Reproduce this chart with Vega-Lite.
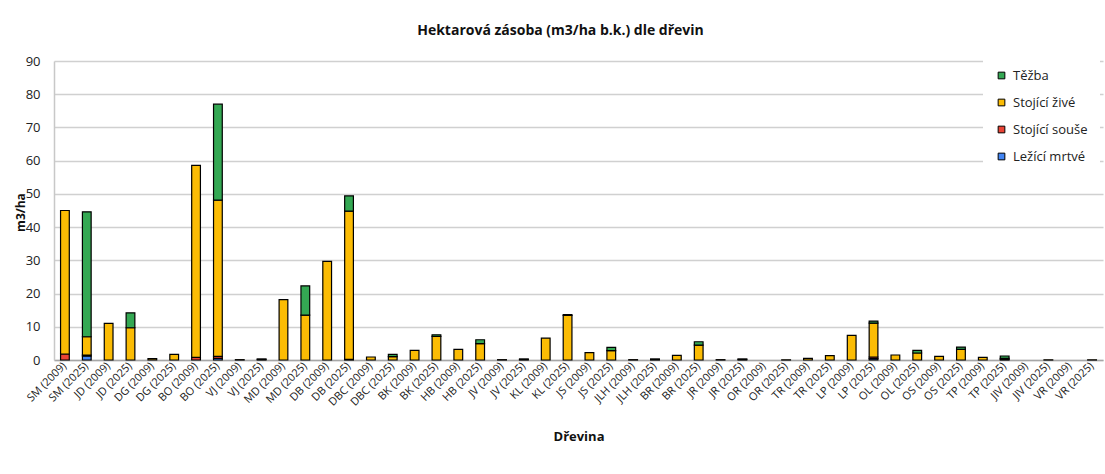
{
  "$schema": "https://vega.github.io/schema/vega-lite/v6.json",
  "autosize": "none",
  "width": 1049,
  "height": 299,
  "padding": {"left": 54, "top": 61, "right": 2, "bottom": 114},
  "background": "white",
  "title": {
    "text": "Hektarová zásoba (m3/ha b.k.) dle dřevin",
    "font": "Open Sans",
    "fontSize": 14,
    "fontWeight": "bold",
    "color": "#111",
    "anchor": "middle",
    "frame": "group",
    "dx": -18,
    "offset": 17
  },
  "data": {
    "values": [
      {"d": "SM (2009)", "Ležící mrtvé": 0, "Stojící souše": 1.8, "Stojící živé": 43.2, "Těžba": 0},
      {"d": "SM (2025)", "Ležící mrtvé": 1.2, "Stojící souše": 0.3, "Stojící živé": 5.5, "Těžba": 37.6},
      {"d": "JD (2009)", "Ležící mrtvé": 0, "Stojící souše": 0, "Stojící živé": 11.0, "Těžba": 0},
      {"d": "JD (2025)", "Ležící mrtvé": 0, "Stojící souše": 0, "Stojící živé": 9.7, "Těžba": 4.5},
      {"d": "DG (2009)", "Ležící mrtvé": 0, "Stojící souše": 0, "Stojící živé": 0.4, "Těžba": 0},
      {"d": "DG (2025)", "Ležící mrtvé": 0, "Stojící souše": 0, "Stojící živé": 1.7, "Těžba": 0},
      {"d": "BO (2009)", "Ležící mrtvé": 0, "Stojící souše": 0.8, "Stojící živé": 57.8, "Těžba": 0},
      {"d": "BO (2025)", "Ležící mrtvé": 0.5, "Stojící souše": 0.6, "Stojící živé": 47.0, "Těžba": 28.9},
      {"d": "VJ (2009)", "Ležící mrtvé": 0, "Stojící souše": 0, "Stojící živé": 0.1, "Těžba": 0},
      {"d": "VJ (2025)", "Ležící mrtvé": 0, "Stojící souše": 0, "Stojící živé": 0.2, "Těžba": 0.1},
      {"d": "MD (2009)", "Ležící mrtvé": 0, "Stojící souše": 0, "Stojící živé": 18.2, "Těžba": 0},
      {"d": "MD (2025)", "Ležící mrtvé": 0, "Stojící souše": 0, "Stojící živé": 13.5, "Těžba": 8.8},
      {"d": "DB (2009)", "Ležící mrtvé": 0, "Stojící souše": 0, "Stojící živé": 29.7, "Těžba": 0},
      {"d": "DB (2025)", "Ležící mrtvé": 0, "Stojící souše": 0.2, "Stojící živé": 44.6, "Těžba": 4.6},
      {"d": "DBC (2009)", "Ležící mrtvé": 0, "Stojící souše": 0, "Stojící živé": 0.9, "Těžba": 0},
      {"d": "DBC (2025)", "Ležící mrtvé": 0, "Stojící souše": 0, "Stojící živé": 1.0, "Těžba": 0.7},
      {"d": "BK (2009)", "Ležící mrtvé": 0, "Stojící souše": 0, "Stojící živé": 2.9, "Těžba": 0},
      {"d": "BK (2025)", "Ležící mrtvé": 0, "Stojící souše": 0, "Stojící živé": 7.1, "Těžba": 0.5},
      {"d": "HB (2009)", "Ležící mrtvé": 0, "Stojící souše": 0, "Stojící živé": 3.2, "Těžba": 0},
      {"d": "HB (2025)", "Ležící mrtvé": 0, "Stojící souše": 0, "Stojící živé": 4.9, "Těžba": 1.2},
      {"d": "JV (2009)", "Ležící mrtvé": 0, "Stojící souše": 0, "Stojící živé": 0.1, "Těžba": 0},
      {"d": "JV (2025)", "Ležící mrtvé": 0, "Stojící souše": 0, "Stojící živé": 0.2, "Těžba": 0.1},
      {"d": "KL (2009)", "Ležící mrtvé": 0, "Stojící souše": 0, "Stojící živé": 6.6, "Těžba": 0},
      {"d": "KL (2025)", "Ležící mrtvé": 0, "Stojící souše": 0, "Stojící živé": 13.4, "Těžba": 0.3},
      {"d": "JS (2009)", "Ležící mrtvé": 0, "Stojící souše": 0, "Stojící živé": 2.2, "Těžba": 0},
      {"d": "JS (2025)", "Ležící mrtvé": 0, "Stojící souše": 0, "Stojící živé": 2.8, "Těžba": 1.0},
      {"d": "JLH (2009)", "Ležící mrtvé": 0, "Stojící souše": 0, "Stojící živé": 0.1, "Těžba": 0},
      {"d": "JLH (2025)", "Ležící mrtvé": 0, "Stojící souše": 0, "Stojící živé": 0.2, "Těžba": 0.1},
      {"d": "BR (2009)", "Ležící mrtvé": 0, "Stojící souše": 0, "Stojící živé": 1.4, "Těžba": 0},
      {"d": "BR (2025)", "Ležící mrtvé": 0, "Stojící souše": 0, "Stojící živé": 4.5, "Těžba": 1.0},
      {"d": "JR (2009)", "Ležící mrtvé": 0, "Stojící souše": 0, "Stojící živé": 0.1, "Těžba": 0},
      {"d": "JR (2025)", "Ležící mrtvé": 0, "Stojící souše": 0, "Stojící živé": 0.2, "Těžba": 0.1},
      {"d": "OR (2009)", "Ležící mrtvé": 0, "Stojící souše": 0, "Stojící živé": 0, "Těžba": 0},
      {"d": "OR (2025)", "Ležící mrtvé": 0, "Stojící souše": 0, "Stojící živé": 0.05, "Těžba": 0},
      {"d": "TR (2009)", "Ležící mrtvé": 0, "Stojící souše": 0, "Stojící živé": 0.5, "Těžba": 0},
      {"d": "TR (2025)", "Ležící mrtvé": 0, "Stojící souše": 0, "Stojící živé": 1.3, "Těžba": 0},
      {"d": "LP (2009)", "Ležící mrtvé": 0, "Stojící souše": 0, "Stojící živé": 7.4, "Těžba": 0},
      {"d": "LP (2025)", "Ležící mrtvé": 0.4, "Stojící souše": 0.5, "Stojící živé": 10.2, "Těžba": 0.6},
      {"d": "OL (2009)", "Ležící mrtvé": 0, "Stojící souše": 0, "Stojící živé": 1.5, "Těžba": 0},
      {"d": "OL (2025)", "Ležící mrtvé": 0, "Stojící souše": 0, "Stojící živé": 2.1, "Těžba": 0.8},
      {"d": "OS (2009)", "Ležící mrtvé": 0, "Stojící souše": 0, "Stojící živé": 1.1, "Těžba": 0},
      {"d": "OS (2025)", "Ležící mrtvé": 0, "Stojící souše": 0, "Stojící živé": 3.2, "Těžba": 0.7},
      {"d": "TP (2009)", "Ležící mrtvé": 0, "Stojící souše": 0, "Stojící živé": 0.8, "Těžba": 0},
      {"d": "TP (2025)", "Ležící mrtvé": 0, "Stojící souše": 0.2, "Stojící živé": 0.3, "Těžba": 0.7},
      {"d": "JIV (2009)", "Ležící mrtvé": 0, "Stojící souše": 0, "Stojící živé": 0, "Těžba": 0},
      {"d": "JIV (2025)", "Ležící mrtvé": 0, "Stojící souše": 0, "Stojící živé": 0.05, "Těžba": 0},
      {"d": "VR (2009)", "Ležící mrtvé": 0, "Stojící souše": 0, "Stojící živé": 0, "Těžba": 0},
      {"d": "VR (2025)", "Ležící mrtvé": 0, "Stojící souše": 0, "Stojící živé": 0.05, "Těžba": 0}
    ]
  },
  "transform": [
    {"fold": ["Ležící mrtvé", "Stojící souše", "Stojící živé", "Těžba"], "as": ["kat", "v"]},
    {"filter": "datum.v > 0"},
    {"calculate": "indexof(['Ležící mrtvé','Stojící souše','Stojící živé','Těžba'], datum.kat)", "as": "poradi"}
  ],
  "mark": {"type": "bar", "width": {"band": 0.4}, "stroke": "#000", "strokeWidth": 1.2},
  "encoding": {
    "x": {
      "field": "d",
      "type": "nominal",
      "sort": null,
      "scale": {
        "paddingInner": 0,
        "paddingOuter": 0,
        "domain": ["SM (2009)", "SM (2025)", "JD (2009)", "JD (2025)", "DG (2009)", "DG (2025)", "BO (2009)", "BO (2025)", "VJ (2009)", "VJ (2025)", "MD (2009)", "MD (2025)", "DB (2009)", "DB (2025)", "DBC (2009)", "DBC (2025)", "BK (2009)", "BK (2025)", "HB (2009)", "HB (2025)", "JV (2009)", "JV (2025)", "KL (2009)", "KL (2025)", "JS (2009)", "JS (2025)", "JLH (2009)", "JLH (2025)", "BR (2009)", "BR (2025)", "JR (2009)", "JR (2025)", "OR (2009)", "OR (2025)", "TR (2009)", "TR (2025)", "LP (2009)", "LP (2025)", "OL (2009)", "OL (2025)", "OS (2009)", "OS (2025)", "TP (2009)", "TP (2025)", "JIV (2009)", "JIV (2025)", "VR (2009)", "VR (2025)"]
      },
      "axis": {
        "title": "Dřevina",
        "titleFont": "Open Sans",
        "titleFontSize": 13,
        "titleFontWeight": "bold",
        "titleColor": "#111",
        "titleY": 76,
        "titleBaseline": "middle",
        "labelAngle": -45,
        "labelAlign": "right",
        "labelBaseline": "middle",
        "labelFont": "Open Sans",
        "labelFontSize": 11,
        "labelColor": "#222",
        "labelPadding": 4,
        "labelOverlap": false,
        "labelLimit": 200,
        "ticks": false,
        "domainColor": "#a6a6a6",
        "domainWidth": 1.5,
        "grid": false
      }
    },
    "y": {
      "field": "v",
      "type": "quantitative",
      "stack": "zero",
      "scale": {"domain": [0, 90]},
      "axis": {
        "title": "m3/ha",
        "titleFont": "Open Sans",
        "titleFontSize": 12,
        "titleFontWeight": "bold",
        "titleColor": "#111",
        "titleX": -34,
        "titleY": 151,
        "titleAlign": "center",
        "titleBaseline": "middle",
        "values": [0, 10, 20, 30, 40, 50, 60, 70, 80, 90],
        "labelFont": "Open Sans",
        "labelFontSize": 13,
        "labelColor": "#222",
        "labelPadding": 14,
        "ticks": false,
        "domainColor": "#c8c8c8",
        "domainWidth": 1.5,
        "gridColor": "#d0d0d0",
        "gridWidth": 1.5
      }
    },
    "color": {
      "field": "kat",
      "type": "nominal",
      "scale": {
        "domain": ["Těžba", "Stojící živé", "Stojící souše", "Ležící mrtvé"],
        "range": ["#34A853", "#FBBC04", "#EA4335", "#4285F4"]
      },
      "legend": {
        "title": null,
        "orient": "none",
        "legendX": 929,
        "legendY": -4,
        "fillColor": "white",
        "padding": 12,
        "symbolType": "square",
        "symbolSize": 45,
        "symbolStrokeColor": "#000",
        "symbolStrokeWidth": 1,
        "symbolOpacity": 1,
        "labelFont": "Open Sans",
        "labelFontSize": 13,
        "labelColor": "#222",
        "labelOffset": 5,
        "rowPadding": 13
      }
    },
    "order": {"field": "poradi", "type": "quantitative", "sort": "ascending"}
  },
  "config": {"view": {"stroke": null}}
}
